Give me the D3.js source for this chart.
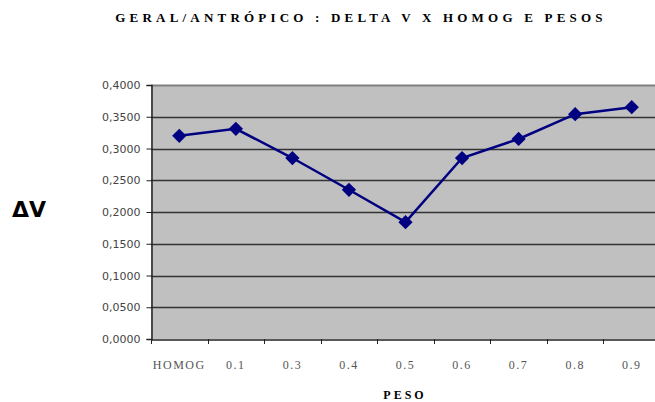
<!DOCTYPE html>
<html><head><meta charset="utf-8">
<script src="https://cdn.jsdelivr.net/npm/d3@7"></script>
<style>body{margin:0;background:#fff}svg{display:block}</style>
</head><body>
<svg id="c" width="655" height="402"></svg>
<script>
const categories = ["HOMOG","0.1","0.3","0.4","0.5","0.6","0.7","0.8","0.9"];
const values = [0.320, 0.331, 0.285, 0.235, 0.184, 0.285, 0.315, 0.354, 0.365];
const yTicks = [0,0.05,0.1,0.15,0.2,0.25,0.3,0.35,0.4];
const title = "GERAL/ANTRÓPICO : DELTA V X HOMOG E PESOS";

const svg = d3.select("#c");
const L = 151, T = 85, W = 509, H = 254;
const x = d3.scaleBand().domain(categories).range([L, L+W]);
const y = d3.scaleLinear().domain([0,0.4]).range([T+H, T]);

svg.append("rect").attr("x",L).attr("y",T).attr("width",W).attr("height",H).attr("fill","#C0C0C0");

// gridlines
svg.append("g").selectAll("line").data(yTicks.filter(d=>d>0)).join("line")
  .attr("x1",L).attr("x2",L+W).attr("y1",d=>Math.round(y(d))+0.5).attr("y2",d=>Math.round(y(d))+0.5)
  .attr("stroke",d=>d===0.4?"#808080":"#333").attr("stroke-width",d=>d===0.4?2:1.3);

// y axis
const ya = svg.append("g").attr("transform",`translate(${L+0.5},0)`)
  .call(d3.axisLeft(y).tickValues(yTicks).tickSize(5).tickPadding(6)
    .tickFormat(d=>d3.format(".4f")(d).replace(".",",")));
ya.select(".domain").attr("stroke","#222").attr("stroke-width",1.5);
ya.selectAll(".tick line").attr("stroke","#222");
ya.selectAll("text").attr("font-family","DejaVu Sans").attr("font-size","11px").attr("fill","#444");

// x axis
const xa = svg.append("g").attr("transform",`translate(0,${T+H+0.5})`)
  .call(d3.axisBottom(x).tickSize(0).tickPadding(21));
xa.select(".domain").attr("stroke","#222").attr("stroke-width",1.5);
xa.selectAll("text").attr("font-family","Liberation Serif").attr("font-size","12px").attr("fill","#555")
  .attr("letter-spacing","1.5px");
// category boundary ticks
svg.append("g").selectAll("line").data(categories.concat(["__end"])).join("line")
  .attr("x1",(d,i)=>Math.round(L + i*x.step())+0.5).attr("x2",(d,i)=>Math.round(L + i*x.step())+0.5)
  .attr("y1",T+H).attr("y2",T+H+5).attr("stroke","#222");

// line + markers
svg.append("path").datum(values)
  .attr("d", d3.line().x((d,i)=>x(categories[i])+x.bandwidth()/2).y(d=>y(d)))
  .attr("fill","none").attr("stroke","#000080").attr("stroke-width",2.5);
svg.append("g").selectAll("path").data(values).join("path")
  .attr("d", d3.symbol(d3.symbolDiamond2, 130)())
  .attr("transform",(d,i)=>`translate(${x(categories[i])+x.bandwidth()/2},${y(d)})`)
  .attr("fill","#000080");

// titles
svg.append("text").attr("x",361).attr("y",22).attr("text-anchor","middle")
  .attr("font-family","Liberation Serif").attr("font-weight","bold").attr("font-size","13px")
  .attr("letter-spacing","4.2px").attr("fill","#000").text(title);
svg.append("text").attr("x",12).attr("y",217)
  .attr("font-family","DejaVu Sans").attr("font-weight","bold").attr("font-size","22px")
  .attr("fill","#000").text("ΔV");
svg.append("text").attr("x",405).attr("y",399).attr("text-anchor","middle")
  .attr("font-family","Liberation Serif").attr("font-weight","bold").attr("font-size","12px")
  .attr("letter-spacing","3px").attr("fill","#000").text("PESO");
</script>
</body></html>
